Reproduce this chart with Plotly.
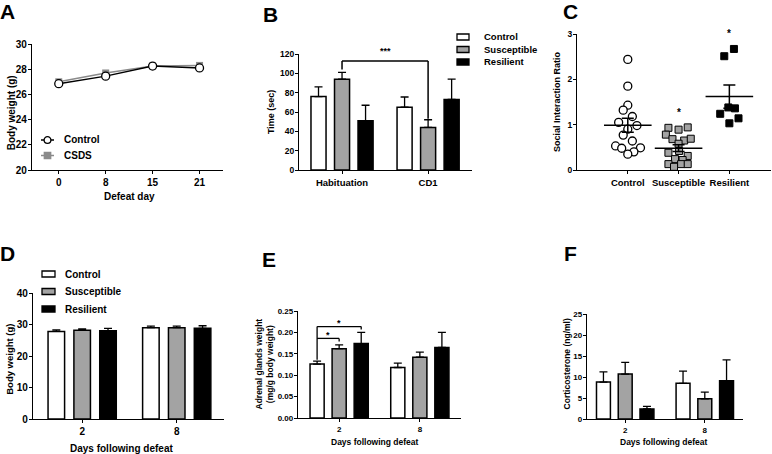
import numpy as np
import plotly.graph_objects as go

W, H = 772, 454

# ---- data ----
# A: body weight during defeat
a_days = ["0", "8", "15", "21"]
a_control = [26.85, 27.45, 28.25, 28.1]
a_csds = [27.0, 27.7, 28.25, 28.3]

# B: interaction time
b_phases = ["Habituation", "CD1"]
b_control = [76, 65]
b_control_err = [10, 10.5]
b_susceptible = [94, 44]
b_susceptible_err = [7, 8]
b_resilient = [51, 73]
b_resilient_err = [16, 21]

# C: social interaction ratio (individual animals + jitter in category units)
c_groups = ["Control", "Susceptible", "Resilient"]
c_control = [2.44, 1.85, 1.43, 1.32, 1.18, 1.05, 0.98, 0.90, 0.77, 0.64, 0.53, 0.48, 0.49, 0.40, 0.35]
c_control_jit = [0, 0, 0, -0.09, 0.09, -0.18, 0.18, 0, -0.09, 0.09, -0.24, -0.12, 0.25, 0.12, 0]
c_susceptible = [0.93, 0.89, 0.94, 0.78, 0.68, 0.65, 0.69, 0.58, 0.38, 0.31, 0.42, 0.24, 0.22, 0.13, 0.07, 0.13, 0.13]
c_susceptible_jit = [-0.2, 0, 0.18, -0.25, -0.12, 0.11, 0.24, 0, -0.2, 0.18, 0.01, -0.07, 0.08, -0.2, -0.09, 0.05, 0.18]
c_resilient = [2.51, 2.67, 1.38, 1.36, 1.24, 1.14, 1.03]
c_resilient_jit = [-0.1, 0.09, -0.02, 0.11, -0.18, 0.18, 0]

# D-F: days following defeat
days = ["2", "8"]
d_control = [27.8, 29.0]
d_control_err = [0.5, 0.5]
d_susceptible = [28.2, 29.0]
d_susceptible_err = [0.4, 0.5]
d_resilient = [28.0, 28.8]
d_resilient_err = [0.8, 0.8]

e_control = [0.126, 0.118]
e_control_err = [0.007, 0.010]
e_susceptible = [0.162, 0.142]
e_susceptible_err = [0.009, 0.012]
e_resilient = [0.174, 0.165]
e_resilient_err = [0.026, 0.035]

f_control = [8.8, 8.5]
f_control_err = [2.4, 2.9]
f_susceptible = [10.7, 4.8]
f_susceptible_err = [2.8, 1.6]
f_resilient = [2.4, 9.1]
f_resilient_err = [0.6, 5.0]

FONT = "Liberation Sans, Arial, sans-serif"
GREY = "#a3a3a3"
group_names = ["Control", "Susceptible", "Resilient"]
group_colors = ["white", GREY, "black"]


def px_x(p):
    return p / W


def px_y(p):
    return 1 - p / H


def tf(size):
    return dict(family=FONT, size=size, color="black", weight="bold")


fig = go.Figure()

# A
fig.add_trace(go.Scatter(x=a_days, y=a_csds, mode="lines+markers", xaxis="x", yaxis="y",
                         line=dict(color="#8a8a8a", width=1.5),
                         marker=dict(symbol="square", size=7, color="#8a8a8a"),
                         showlegend=False))
fig.add_trace(go.Scatter(x=a_days, y=a_control, mode="lines+markers", xaxis="x", yaxis="y",
                         line=dict(color="black", width=1.5),
                         marker=dict(symbol="circle", size=8, color="white",
                                     line=dict(color="black", width=1.3)),
                         showlegend=False))


def add_bars(ax, cats, vals, errs):
    for name, color, v, e in zip(group_names, group_colors, vals, errs):
        fig.add_trace(go.Bar(x=cats, y=v, name=name, xaxis="x" + ax, yaxis="y" + ax,
                             marker=dict(color=color, line=dict(color="black", width=1.5)),
                             error_y=dict(type="data", array=e, arrayminus=[0] * len(e),
                                          symmetric=False, color="black", thickness=1.3, width=4),
                             showlegend=False))


add_bars("2", b_phases, [b_control, b_susceptible, b_resilient],
         [b_control_err, b_susceptible_err, b_resilient_err])
add_bars("4", days, [d_control, d_susceptible, d_resilient],
         [d_control_err, d_susceptible_err, d_resilient_err])
add_bars("5", days, [e_control, e_susceptible, e_resilient],
         [e_control_err, e_susceptible_err, e_resilient_err])
add_bars("6", days, [f_control, f_susceptible, f_resilient],
         [f_control_err, f_susceptible_err, f_resilient_err])

# C scatter with mean +/- SEM
c_sets = [(c_control, c_control_jit, dict(symbol="circle", size=8, color="white",
                                          line=dict(color="black", width=1.3))),
          (c_susceptible, c_susceptible_jit, dict(symbol="square", size=7, color=GREY,
                                                  line=dict(color="black", width=1))),
          (c_resilient, c_resilient_jit, dict(symbol="square", size=7, color="black",
                                              line=dict(color="black", width=1)))]
for i, (vals, jit, mk) in enumerate(c_sets):
    fig.add_trace(go.Scatter(x=[i + j for j in jit], y=vals, mode="markers",
                             xaxis="x3", yaxis="y3", marker=mk, showlegend=False))
    arr = np.array(vals)
    sem = arr.std(ddof=1) / np.sqrt(len(arr))
    fig.add_trace(go.Scatter(x=[i], y=[arr.mean()], mode="markers", xaxis="x3", yaxis="y3",
                             marker=dict(symbol="line-ew", size=34,
                                         line=dict(color="black", width=1.5)),
                             error_y=dict(type="data", array=[sem], color="black",
                                          thickness=1.5, width=6),
                             showlegend=False))

axis_style = dict(showline=True, linecolor="black", linewidth=1.3, ticks="outside",
                  ticklen=3, tickwidth=1.3, tickcolor="black", showgrid=False,
                  zeroline=False, automargin=False)
y_style = dict(axis_style, ticklabelstandoff=-1)

layout_axes = dict(
    xaxis=dict(axis_style, domain=[px_x(32), px_x(223)], anchor="y", type="category",
               range=[-0.57, 3.5], tickfont=tf(10)),
    yaxis=dict(y_style, domain=[px_y(170), px_y(44)], anchor="x", range=[20, 30],
               dtick=2, tickfont=tf(10)),
    xaxis2=dict(axis_style, domain=[px_x(299), px_x(472)], anchor="y2", type="category",
                range=[-0.5, 1.51], tickfont=tf(9.5)),
    yaxis2=dict(y_style, domain=[px_y(170), px_y(54)], anchor="x2", range=[0, 120],
                dtick=20, tickfont=tf(8.5)),
    xaxis3=dict(axis_style, domain=[px_x(577), px_x(771)], anchor="y3",
                range=[-1.0, 2.82], tickvals=[0, 1, 2], ticktext=c_groups, tickfont=tf(9.5)),
    yaxis3=dict(y_style, domain=[px_y(170), px_y(34)], anchor="x3", range=[0, 3],
                dtick=1, tickfont=tf(8.5)),
    xaxis4=dict(axis_style, domain=[px_x(33), px_x(224)], anchor="y4", type="category",
                range=[-0.52, 1.5], tickfont=tf(10)),
    yaxis4=dict(y_style, domain=[px_y(419), px_y(293)], anchor="x4", range=[0, 40],
                dtick=10, tickfont=tf(10)),
    xaxis5=dict(axis_style, domain=[px_x(298), px_x(461)], anchor="y5", type="category",
                range=[-0.51, 1.51], tickfont=tf(8)),
    yaxis5=dict(y_style, domain=[px_y(418), px_y(311)], anchor="x5", range=[0, 0.25],
                dtick=0.05, tickformat=".2f", tickfont=tf(8)),
    xaxis6=dict(axis_style, domain=[px_x(587), px_x(743)], anchor="y6", type="category",
                range=[-0.48, 1.48], tickfont=tf(8)),
    yaxis6=dict(y_style, domain=[px_y(419), px_y(314)], anchor="x6", range=[0, 25],
                dtick=5, tickfont=tf(8)),
)

shapes = []
annotations = []

# y-axis titles, placed next to each axis domain
for text, yref, cx, frac, fs in [("Body weight (g)", "y domain", 11, 0.45, 10),
                                 ("Time (sec)", "y2 domain", 271, 0.5, 9),
                                 ("Social Interaction Ratio", "y3 domain", 557, 0.5, 9),
                                 ("Body weight (g)", "y4 domain", 10, 0.47, 9.5),
                                 ("Adrenal glands weight<br>(mg/g body weight)", "y5 domain", 264, 0.5, 8.5),
                                 ("Corticosterone (ng/ml)", "y6 domain", 567, 0.52, 8.5)]:
    annotations.append(dict(text=text, x=px_x(cx), y=frac, xref="paper", yref=yref,
                            textangle=-90, xanchor="center", yanchor="middle",
                            showarrow=False, font=tf(fs)))

# x-axis titles
for text, cx, cy, fs in [("Defeat day", 129, 197, 10),
                         ("Days following defeat", 121, 448, 10),
                         ("Days following defeat", 375, 442, 8.5),
                         ("Days following defeat", 663.5, 442, 8.5)]:
    annotations.append(dict(text=text, x=px_x(cx), y=px_y(cy), xref="paper", yref="paper",
                            xanchor="center", yanchor="middle", showarrow=False, font=tf(fs)))

# panel letters
for letter, cx, cy in [("A", 7.5, 12), ("B", 270, 14.5), ("C", 570.5, 12),
                       ("D", 7.5, 253.5), ("E", 268.5, 259.5), ("F", 570, 253.5)]:
    annotations.append(dict(text=letter, x=px_x(cx), y=px_y(cy), xref="paper", yref="paper",
                            xanchor="center", yanchor="middle", showarrow=False,
                            font=dict(family=FONT, size=21, color="black", weight="bold")))

# A legend
for (row, color, fill, sym) in [(140, "black", "white", "circle"), (155.5, "#8a8a8a", "#8a8a8a", "rect")]:
    shapes.append(dict(type="line", xref="paper", yref="paper", x0=px_x(41), x1=px_x(54),
                       y0=px_y(row), y1=px_y(row), line=dict(color=color, width=1.5)))
    r = 3.4 if sym == "circle" else 3.2
    shapes.append(dict(type=sym, xref="paper", yref="paper", x0=px_x(47.5 - r), x1=px_x(47.5 + r),
                       y0=px_y(row - r), y1=px_y(row + r), fillcolor=fill,
                       line=dict(color=color, width=1.3)))
annotations.append(dict(text="Control", x=px_x(62), y=px_y(140), xref="paper", yref="paper",
                        xanchor="left", yanchor="middle", showarrow=False, font=tf(10)))
annotations.append(dict(text="CSDS", x=px_x(62), y=px_y(155.5), xref="paper", yref="paper",
                        xanchor="left", yanchor="middle", showarrow=False, font=tf(10)))

# bar legends for B and D
for (x0, x1, tx, rows, fs) in [(457, 469, 482, [37, 49.5, 62], 9.5),
                               (42, 55, 63, [274, 291.5, 309], 10)]:
    for name, color, row in zip(group_names, group_colors, rows):
        shapes.append(dict(type="rect", xref="paper", yref="paper", x0=px_x(x0), x1=px_x(x1),
                           y0=px_y(row - 3), y1=px_y(row + 3), fillcolor=color,
                           line=dict(color="black", width=1.3)))
        annotations.append(dict(text=name, x=px_x(tx), y=px_y(row), xref="paper", yref="paper",
                                xanchor="left", yanchor="middle", showarrow=False, font=tf(fs)))

# B significance bracket (Habituation susceptible vs CD1 susceptible)
for (x0, y0, x1, y1) in [(0, 104, 0, 112.7), (0, 112.7, 1, 112.7), (1, 112.7, 1, 53)]:
    shapes.append(dict(type="line", xref="x2", yref="y2", x0=x0, y0=y0, x1=x1, y1=y1,
                       line=dict(color="black", width=1.5)))
annotations.append(dict(text="***", x=0.5, y=123 / 120, xref="x2", yref="y2 domain",
                        showarrow=False, xanchor="center", yanchor="middle", font=tf(9)))

# C asterisks
annotations.append(dict(text="*", x=1, y=1.27, xref="x3", yref="y3", showarrow=False,
                        yanchor="middle", font=tf(10)))
annotations.append(dict(text="*", x=2, y=3.02 / 3, xref="x3", yref="y3 domain", showarrow=False,
                        yanchor="middle", font=tf(10)))

# E brackets (Control vs Susceptible, Control vs Resilient at day 2)
slot = 0.82 / 3
for (x0, y0, x1, y1) in [(-slot, 0.136, -slot, 0.2135), (-slot, 0.186, 0, 0.186),
                         (0, 0.186, 0, 0.179), (-slot, 0.2135, slot, 0.2135),
                         (slot, 0.2135, slot, 0.207)]:
    shapes.append(dict(type="line", xref="x5", yref="y5", x0=x0, y0=y0, x1=x1, y1=y1,
                       line=dict(color="black", width=1.3)))
annotations.append(dict(text="*", x=-slot / 2, y=0.193, xref="x5", yref="y5", showarrow=False,
                        yanchor="middle", font=tf(9)))
annotations.append(dict(text="*", x=0, y=0.222, xref="x5", yref="y5", showarrow=False,
                        yanchor="middle", font=tf(9)))

fig.update_layout(
    width=W, height=H, margin=dict(l=0, r=0, t=0, b=0, autoexpand=False),
    paper_bgcolor="white", plot_bgcolor="white",
    font=dict(family=FONT, color="black"),
    barmode="group", bargap=0.18, bargroupgap=0.36,
    showlegend=False, shapes=shapes, annotations=annotations,
    **layout_axes,
)

# keep the 772x454 figure flush with the window (no default body margin, no scrollbars)
page_css = ("document.documentElement.style.overflow = 'hidden';"
            "document.body.style.margin = '0';"
            "document.body.style.overflow = 'hidden';")
fig.write_html("out.html", config={"displayModeBar": False}, post_script=page_css)
